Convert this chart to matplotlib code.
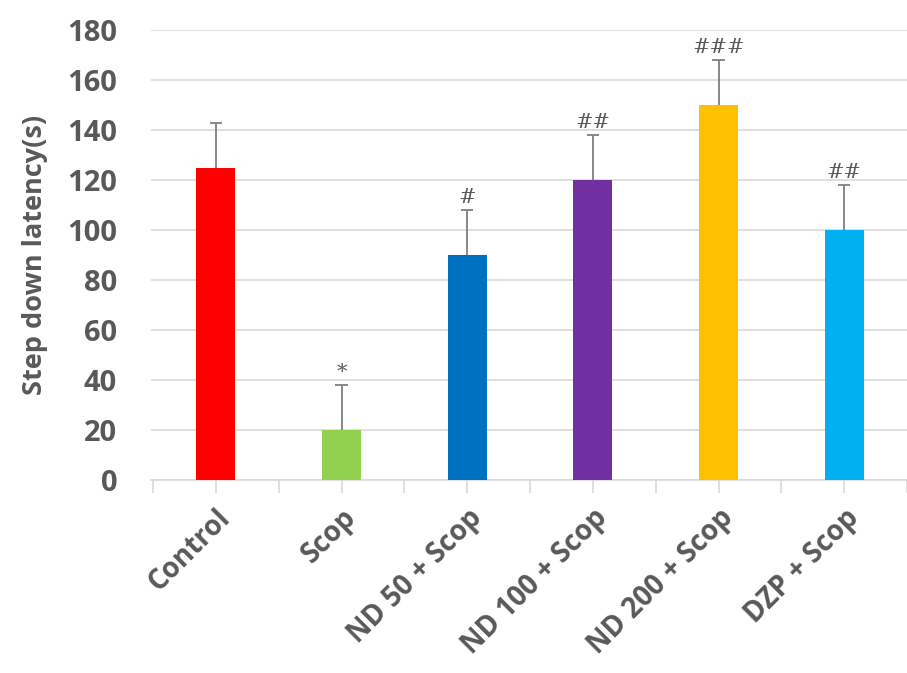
import numpy as np
import matplotlib.pyplot as plt

groups = ['Control', 'Scop', 'ND 50 + Scop', 'ND 100 + Scop', 'ND 200 + Scop', 'DZP + Scop']
latency = [125, 20, 90, 120, 150, 100]
sd = [18, 18, 18, 18, 18, 18]
marks = ['', '*', '#', '##', '###', '##']
colors = ['#ff0000', '#92d050', '#0070c0', '#7030a0', '#ffc000', '#00b0f0']

plt.rcParams['font.family'] = ['Open Sans', 'DejaVu Sans']

fig = plt.figure(figsize=(9.07, 6.73), dpi=100)
ax = fig.add_axes([0.166, 0.287, 0.834, 0.668])

x = np.arange(len(groups))
top = np.array(latency) + np.array(sd)
ax.bar(x, latency, width=0.31, color=colors, zorder=3)

# upper error bars only
ax.vlines(x, latency, top, color='#7f7f7f', linewidth=1.3, zorder=4)
ax.hlines(top, x - 0.05, x + 0.05, color='#7f7f7f', linewidth=1.3, zorder=4)

for xi, t, m in zip(x, top, marks):
    if m:
        ax.text(xi, t + 1.2, m, ha='center', va='bottom', fontsize=15,
                color='#595959', family='DejaVu Serif', style='italic')

ax.set_ylim(0, 180)
ax.set_xlim(-0.52, 5.48)
ax.set_yticks(range(0, 181, 20))
ax.yaxis.grid(True, color='#d9d9d9', linewidth=1.2, zorder=0)
ax.tick_params(axis='y', length=0, labelsize=21, labelcolor='#595959', pad=24)
for lab in ax.get_yticklabels():
    lab.set_fontweight('bold')

ax.set_xticks(x)
ax.set_xticklabels(groups, rotation=45, ha='right', rotation_mode='anchor',
                   fontsize=20, fontweight='bold', color='#595959')
ax.set_xticks(np.arange(-0.5, 5.6, 1.0), minor=True)
ax.tick_params(axis='x', which='both', length=9, color='#d9d9d9', width=1.2, pad=8)

for side in ['top', 'right', 'left']:
    ax.spines[side].set_visible(False)
ax.spines['bottom'].set_color('#d9d9d9')
ax.spines['bottom'].set_linewidth(1.2)

ax.set_ylabel('Step down latency(s)', fontsize=19.5, fontweight='bold',
              color='#595959', labelpad=14)

fig.savefig('out.png', dpi=100)
